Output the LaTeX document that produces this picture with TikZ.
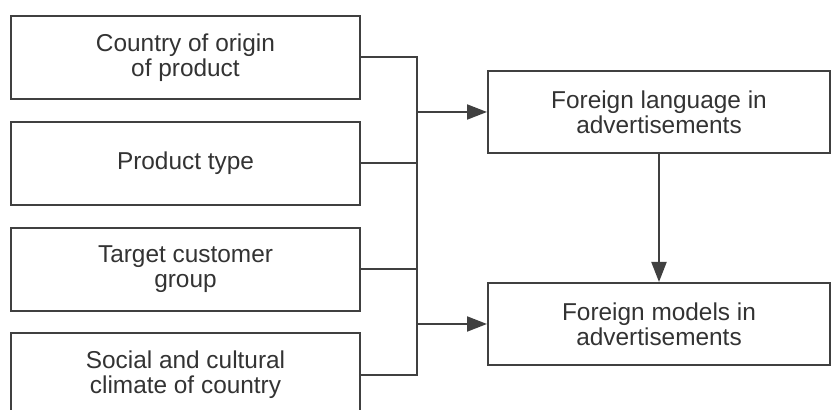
\documentclass[tikz,border=0pt]{standalone}
\usepackage{fontspec}
\setmainfont{Liberation Sans}
\usetikzlibrary{arrows.meta,positioning}

\definecolor{inkgrey}{HTML}{333333}
\definecolor{linegrey}{HTML}{404040}

\begin{document}
\begin{tikzpicture}[
  x=0.5pt, y=-0.5pt,
  node distance=10.4pt and 64pt,
  font=\fontsize{12.2pt}{12.4pt}\selectfont,
  factor/.style={rectangle, draw=linegrey, line width=1pt, fill=white, text=inkgrey,
                 minimum width=174.5pt, minimum height=41.5pt, align=center, inner sep=2pt},
  effect/.style={rectangle, draw=linegrey, line width=1pt, fill=white, text=inkgrey,
                 minimum width=171pt, minimum height=41pt, align=center, inner sep=2pt},
  link/.style={draw=linegrey, line width=1pt},
  arr/.style={link, -{Triangle[length=10pt, width=7.5pt]}}
]
\useasboundingbox (0,0) rectangle (831,410);
\clip (0,0) rectangle (831,410);

% influencing factors
\node[factor] (origin) at (185.5,57.5) {Country of origin\\of product};
\node[factor, below=of origin] (ptype) {Product type};
\node[factor, below=of ptype] (target) {Target customer\\group};
\node[factor, below=of target] (climate) {Social and cultural\\climate of country};

% outcomes
\node[effect] (lang) at (659,112) {Foreign language in\\advertisements};
\node[effect, below=64pt of lang] (models) {Foreign models in\\advertisements};

\coordinate (bus) at (417,0);

\draw[link] (origin.east) -- (origin.east -| bus) -- (climate.east -| bus) -- (climate.east);
\draw[link] (ptype.east) -- (ptype.east -| bus);
\draw[link] (target.east) -- (target.east -| bus);
\draw[arr] (lang.west -| bus) -- (lang.west);
\draw[arr] (models.west -| bus) -- (models.west);
\draw[arr] (lang) -- (models);

\end{tikzpicture}
\end{document}
